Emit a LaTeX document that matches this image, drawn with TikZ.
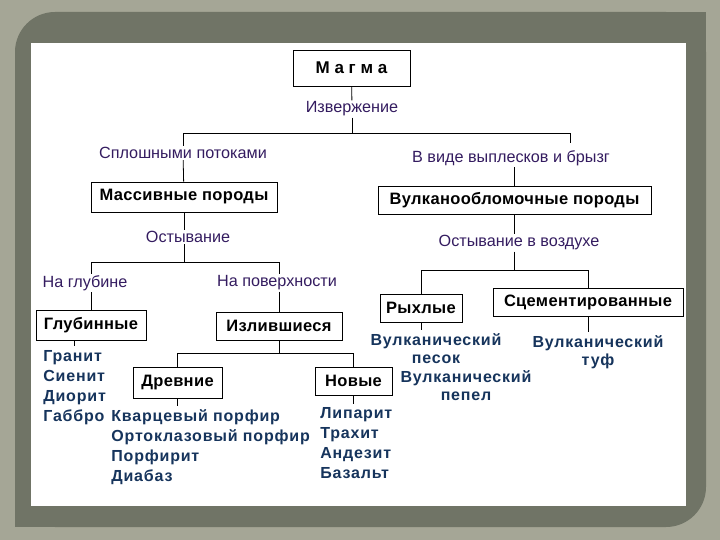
\documentclass[tikz,border=0pt]{standalone}
\usepackage{fontspec}
\setmainfont{Liberation Sans}
\definecolor{frame}{RGB}{165,166,150}
\definecolor{band}{RGB}{112,116,102}
\definecolor{lblc}{RGB}{52,28,96}
\definecolor{rockc}{RGB}{22,52,92}

\tikzset{
  box/.style={draw,line width=0.8pt,fill=white,inner sep=0pt,
    font=\fontsize{16.5}{19}\selectfont\bfseries\addfontfeature{LetterSpace=2}},
  lbl/.style={text=lblc,inner sep=1pt,font=\fontsize{16.2}{19}\selectfont},
  rocks/.style={text=rockc,inner sep=0pt,align=left,
    font=\fontsize{16}{20}\selectfont\bfseries\addfontfeature{LetterSpace=5}},
  pair/.style={rocks,align=center,
    font=\fontsize{16}{18.5}\selectfont\bfseries\addfontfeature{LetterSpace=5}},
}

\begin{document}
\begin{tikzpicture}[x=1pt,y=-1pt,line width=0.8pt]
% frame
\fill[frame] (0,0) rectangle (720,540);
\fill[band,rounded corners=40pt] (15,12) rectangle (706,527);
\fill[band] (650,12) rectangle (706,70);
\fill[band] (15,470) rectangle (70,527);
\fill[white] (31,43) rectangle (686,506);

% boxes
\node[box,minimum width=117pt,minimum height=36pt,font=\fontsize{17}{19}\selectfont\bfseries] (magma) at (351.5,68) {М а г м а};
\node[box,minimum width=186pt,minimum height=30pt] (massiv) at (184,197) {Массивные породы};
\node[box,minimum width=273pt,minimum height=28pt] (vulk) at (514.5,200) {Вулканообломочные породы};
\node[box,minimum width=110pt,minimum height=30pt] (glubinnye) at (91,325) {Глубинные};
\node[box,minimum width=126pt,minimum height=28pt] (izliv) at (279,326) {Излившиеся};
\node[box,minimum width=89pt,minimum height=31pt] (drevn) at (177.5,382.5) {Древние};
\node[box,minimum width=77pt,minimum height=28pt] (novye) at (353.5,381) {Новые};
\node[box,minimum width=82pt,minimum height=28pt] (rykhl) at (421,308) {Рыхлые};
\node[box,minimum width=190pt,minimum height=28pt] (cement) at (588,302) {Сцементированные};

% labels
\node[lbl] (izv) at (352,109) {Извержение};
\node[lbl] (splosh) at (183,153) {Сплошными потоками};
\node[lbl] (vypl) at (511,158) {В виде выплесков и брызг};
\node[lbl] (ostyv) at (188,237) {Остывание};
\node[lbl] (ostVozd) at (519,243) {Остывание в воздухе};
\node[lbl] (naGlub) at (85,283) {На глубине};
\node[lbl] (naPov) at (277,283) {На поверхности};

% rock lists
\node[rocks,anchor=north west] (gList) at (43,350) {Гранит\\Сиенит\\Диорит\\Габбро};
\node[rocks,anchor=north west] (dList) at (111,409) {Кварцевый порфир\\Ортоклазовый порфир\\Порфирит\\Диабаз};
\node[rocks,anchor=north west] (nList) at (320,407) {Липарит\\Трахит\\Андезит\\Базальт};
\node[pair,anchor=north] (pesok) at (436,333) {Вулканический\\песок};
\node[pair,anchor=north] (pepel) at (466,370) {Вулканический\\пепел};
\node[pair,anchor=north] (tuf) at (598,335) {Вулканический\\туф};

% junctions
\coordinate (b1) at (352,133);
\coordinate (vyplTop) at (570,143);
\coordinate (b2) at (184,262);
\coordinate (b3) at (514.5,270);
\coordinate (b4) at (279,353);

% magma
\draw (magma) -- (izv);
\draw (izv) -- (b1);
\draw (b1) -| (splosh);
\draw (b1) -| (vyplTop);
\draw (splosh) -- (massiv);
\draw (vulk.north |- vypl.south) -- (vulk);

% massive rocks
\draw (massiv) -- (massiv.south |- ostyv.north);
\draw (massiv.south |- ostyv.south) -- (b2);
\draw (glubinnye.north |- b2) -- (izliv.north |- b2);
\draw (glubinnye.north |- b2) -- (glubinnye.north |- naGlub.north);
\draw (izliv.north |- b2) -- (izliv.north |- naPov.north);
\draw (glubinnye.north |- naGlub.south) -- (glubinnye);
\draw (izliv.north |- naPov.south) -- (izliv);
\draw[shorten >=4pt] (glubinnye.south -| gList.north) -- (gList);

% effusive
\draw (izliv) -- (b4);
\draw (drevn.north |- b4) -- (novye.north |- b4);
\draw (drevn.north |- b4) -- (drevn);
\draw (novye.north |- b4) -- (novye);
\draw[shorten >=3pt] (drevn) -- (drevn.south |- dList.north);
\draw[shorten >=3pt] (novye) -- (novye.south |- nList.north);

% pyroclastic
\draw (vulk) -- (vulk.south |- ostVozd.north);
\draw (vulk.south |- ostVozd.south) -- (b3);
\draw (rykhl.north |- b3) -- (cement.north |- b3);
\draw (rykhl.north |- b3) -- (rykhl);
\draw (cement.north |- b3) -- (cement);
\draw[shorten >=3pt] (rykhl) -- (rykhl.south |- pesok.north);
\draw[shorten >=3pt] (cement) -- (cement.south |- tuf.north);
\end{tikzpicture}
\end{document}
